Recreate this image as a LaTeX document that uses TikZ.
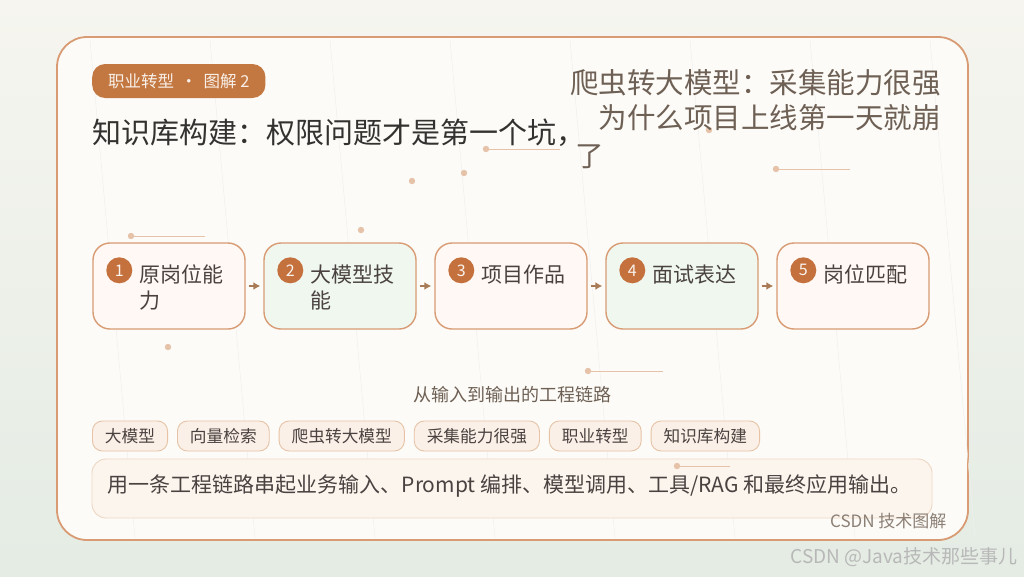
\documentclass[tikz,border=0pt]{standalone}
\usepackage{fontspec}
\setmainfont{Noto Sans CJK SC}
\usetikzlibrary{positioning,arrows.meta,calc}

\definecolor{pagetop}{HTML}{F6F5EF}
\definecolor{pagebottom}{HTML}{E4ECE4}
\definecolor{cardfill}{HTML}{FCFBF7}
\definecolor{cardline}{HTML}{D89B73}
\definecolor{badge}{HTML}{C47841}
\definecolor{numdot}{HTML}{C4713D}
\definecolor{warmfill}{HTML}{FFF8F4}
\definecolor{mintfill}{HTML}{EFF7EF}
\definecolor{inktext}{HTML}{4A4240}
\definecolor{titletext}{HTML}{343230}
\definecolor{softtext}{HTML}{6E6054}
\definecolor{signtext}{HTML}{8C8076}
\definecolor{tagfill}{HTML}{FBF0E7}
\definecolor{tagline}{HTML}{E6C3A6}
\definecolor{sumfill}{HTML}{FCF5EE}
\definecolor{sumline}{HTML}{EED6C2}
\definecolor{dotcol}{HTML}{E5C2A8}
\definecolor{arrowcol}{HTML}{A87A55}

\tikzset{
  stepbox/.style={draw=cardline, line width=1.4pt, rounded corners=17pt,
    minimum width=152pt, minimum height=86pt, inner sep=0pt},
  numdisc/.style={circle, fill=numdot, text=white!92!numdot, minimum size=26pt,
    inner sep=0pt, font=\fontsize{16}{16}\selectfont},
  steptext/.style={anchor=north west, inner sep=0pt, align=left, text=inktext,
    font=\fontsize{21}{26}\selectfont},
  tagbox/.style={draw=tagline, fill=tagfill, line width=0.9pt, rounded corners=10pt,
    minimum height=30pt, inner xsep=12.5pt, text=inktext, font=\fontsize{16.7}{16.7}\selectfont},
  flowarrow/.style={-{Latex[length=7pt,width=8pt]}, arrowcol, line width=2pt,
    shorten <=3pt, shorten >=3pt},
  deco/.style={dotcol, line width=0.6pt},
}

\begin{document}
\begin{tikzpicture}[x=1pt,y=-1pt]
% page background
\shade[top color=pagetop, bottom color=pagebottom] (0,0) rectangle (1024,576);
\useasboundingbox (0,0) rectangle (1024,576);

% card
\draw[cardline, line width=1.8pt, fill=cardfill, rounded corners=30pt]
  (57,37) rectangle (968,540);
\foreach \x in {90,210,330,450,570,690,810,930}
  \draw[black!6, line width=0.5pt] (\x,40) -- (\x+45,538);

% decorations
\draw[deco] (486,149) -- (560,149);
\fill[dotcol] (486,149) circle (3.2pt);
\fill[dotcol] (709,130) circle (3.2pt);
\draw[deco] (776,169) -- (850,169);
\fill[dotcol] (776,169) circle (3.2pt);
\fill[dotcol] (412,181) circle (3.2pt);
\fill[dotcol] (464,173) circle (3.2pt);
\fill[dotcol] (361,230) circle (3.2pt);
\draw[deco] (131,236) -- (205,236);
\fill[dotcol] (131,236) circle (3.2pt);
\fill[dotcol] (168,347) circle (3.2pt);
\draw[deco] (588,371) -- (663,371);
\fill[dotcol] (588,371) circle (3.2pt);

% header
\node (badge) [fill=badge, rounded corners=13pt, minimum height=34pt, inner xsep=16pt,
  text=white!88!badge, font=\fontsize{16.5}{16.5}\selectfont, anchor=west] at (92,81)
  {职业转型 \,·\, 图解 2};
\node (title) [anchor=base west, inner sep=0pt, text=titletext,
  font=\fontsize{29}{29}\selectfont] at (92,143) {知识库构建：权限问题才是第一个坑，};
\node (subtitle) [anchor=north east, inner sep=0pt, align=right, text=softtext,
  font=\fontsize{28.5}{35}\selectfont] at (941,69)
  {爬虫转大模型：采集能力很强\\为什么项目上线第一天就崩};
\node (tail) [anchor=base west, inner sep=0pt, text=softtext,
  font=\fontsize{28.5}{28.5}\selectfont] at (575,166) {了};

% steps
\node (B1) [stepbox, fill=warmfill] at (169,286) {};
\node (B2) [stepbox, fill=mintfill] at (340,286) {};
\node (B3) [stepbox, fill=warmfill] at (511,286) {};
\node (B4) [stepbox, fill=mintfill] at (682,286) {};
\node (B5) [stepbox, fill=warmfill] at (853,286) {};

\foreach \i/\txt in {1/原岗位能\\力, 2/大模型技\\能, 3/项目作品, 4/面试表达, 5/岗位匹配} {
  \node (N\i) [numdisc] at ($(B\i.north west)+(27,28)$) {\i};
  \node (L\i) [steptext] at ($(B\i.north west)+(47,22)$) {\txt};
}

\draw[flowarrow] (B1) -- (B2);
\draw[flowarrow] (B2) -- (B3);
\draw[flowarrow] (B3) -- (B4);
\draw[flowarrow] (B4) -- (B5);

% chain caption and tags
\node (caption) [text=softtext, font=\fontsize{18}{18}\selectfont] at (512,395) {从输入到输出的工程链路};

\node (T1) [tagbox, anchor=west] at (92,436) {大模型};
\node (T2) [tagbox, right=9pt of T1] {向量检索};
\node (T3) [tagbox, right=9pt of T2] {爬虫转大模型};
\node (T4) [tagbox, right=9pt of T3] {采集能力很强};
\node (T5) [tagbox, right=9pt of T4] {职业转型};
\node (T6) [tagbox, right=9pt of T5] {知识库构建};

% summary
\node (summary) [draw=sumline, fill=sumfill, line width=0.9pt, rounded corners=14pt,
  minimum width=840pt, minimum height=59pt] at (512,488.5) {};
\draw[deco] (677,466) -- (730,466);
\fill[dotcol] (677,466) circle (3.2pt);
\node (sumtext) [anchor=west, inner sep=0pt, text=inktext, font=\fontsize{21}{21}\selectfont]
  at ($(summary.west)+(16,-3)$)
  {用一条工程链路串起业务输入、Prompt 编排、模型调用、工具/RAG 和最终应用输出。};

\node (sign) [anchor=east, text=signtext, font=\fontsize{17}{17}\selectfont] at (950,521) {CSDN 技术图解};

% watermark
\node (mark) [anchor=east, text=black!28, font=\fontsize{19}{19}\selectfont] at (1021,557)
  {CSDN @Java技术那些事儿};
\end{tikzpicture}
\end{document}
